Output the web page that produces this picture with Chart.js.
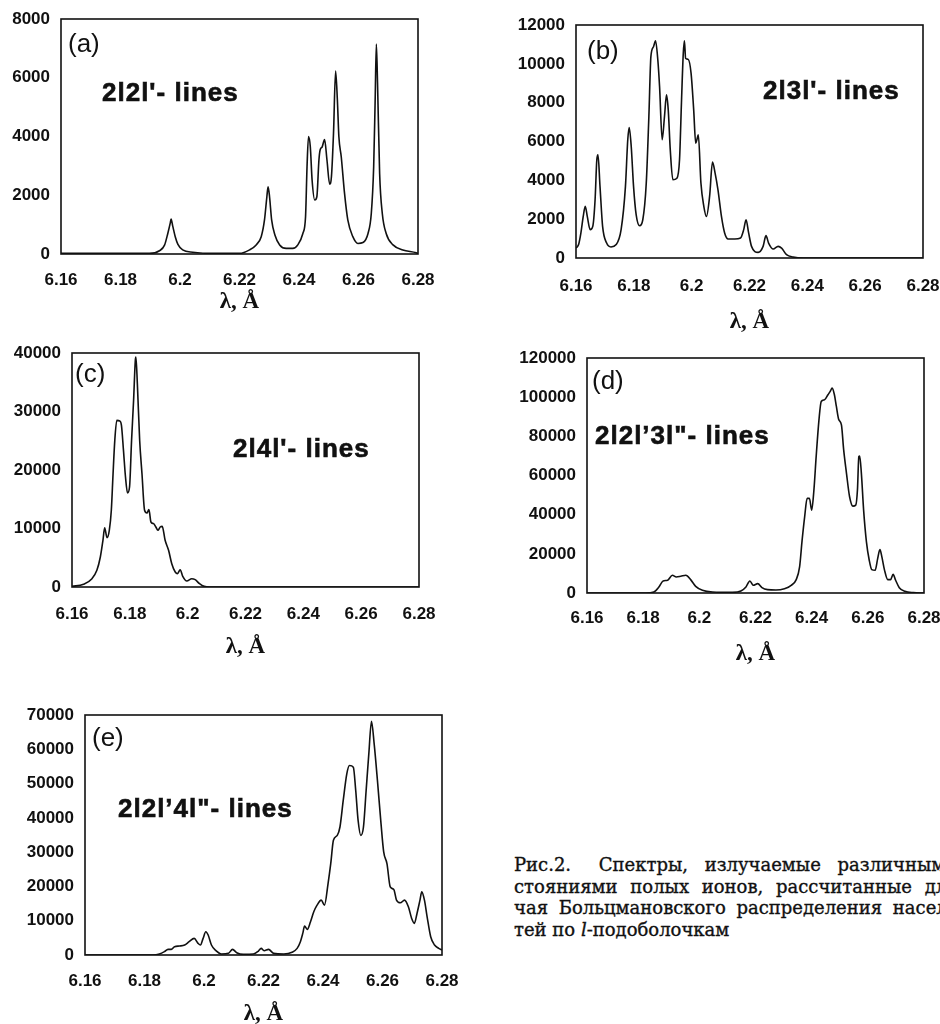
<!DOCTYPE html>
<html>
<head>
<meta charset="utf-8">
<script src="https://cdn.jsdelivr.net/npm/chart.js@4.4.1/dist/chart.umd.min.js"></script>
<style>
  html, body { margin: 0; padding: 0; background: #fff; }
  body { width: 940px; height: 1024px; position: relative; overflow: hidden; }
  canvas { position: absolute; }
  .tag { position: absolute; font-family: "Liberation Sans", Arial, sans-serif; font-size: 26px; line-height: 1; color: #111; white-space: nowrap; }
  .lines { font-weight: bold; letter-spacing: 1px; -webkit-text-stroke: 0.6px #111; }
  .caption { position: absolute; left: 514px; top: 854px; font-family: "DejaVu Serif", serif; font-size: 18px; color: #111; white-space: nowrap; -webkit-text-stroke: 0.35px #111; }
  .caption div { height: 21.7px; line-height: 21.7px; }
</style>
</head>
<body>
<canvas id="chartA" width="442" height="309" style="left:0;top:7px"></canvas>
<canvas id="chartB" width="460" height="323" style="left:480px;top:13px"></canvas>
<canvas id="chartC" width="443" height="320" style="left:0;top:341px"></canvas>
<canvas id="chartD" width="460" height="322" style="left:480px;top:346px"></canvas>
<canvas id="chartE" width="466" height="325" style="left:0;top:703px"></canvas>

<div class="tag" style="left:68px;top:30px">(a)</div>
<div class="tag lines" style="left:102px;top:79px">2l2l'- lines</div>
<div class="tag" style="left:587px;top:37px">(b)</div>
<div class="tag lines" style="left:763px;top:77px">2l3l'- lines</div>
<div class="tag" style="left:75px;top:360px">(c)</div>
<div class="tag lines" style="left:233px;top:435px">2l4l'- lines</div>
<div class="tag" style="left:592px;top:367px">(d)</div>
<div class="tag lines" style="left:595px;top:422px">2l2l’3l"- lines</div>
<div class="tag" style="left:92px;top:724px">(e)</div>
<div class="tag lines" style="left:118px;top:795px">2l2l’4l"- lines</div>

<div class="caption">
  <div style="word-spacing:11px"><span style="margin-right:11px">Рис.2.</span> Спектры, излучаемые различными со-</div>
  <div style="word-spacing:7px">стояниями полых ионов, рассчитанные для слу-</div>
  <div style="word-spacing:5px">чая Больцмановского распределения населенностей</div>
  <div>тей по <i>l</i>-подоболочкам</div>
</div>

<script>
// (a) 2l2l' lines
const aWave = [6.1600, 6.1897, 6.1931, 6.1948, 6.1959, 6.1967, 6.1970, 6.1976, 6.1984, 6.1993, 6.2009, 6.2043, 6.2122, 6.2200,
  6.2234, 6.2256, 6.2273, 6.2284, 6.2292, 6.2296, 6.2301, 6.2308, 6.2319, 6.2335, 6.2357, 6.2379, 6.2396, 6.2413, 6.2422,
  6.2427, 6.2432, 6.2438, 6.2444, 6.2453, 6.2460, 6.2467, 6.2471, 6.2478, 6.2486, 6.2494, 6.2503, 6.2509, 6.2516, 6.2523,
  6.2529, 6.2534, 6.2542, 6.2553, 6.2564, 6.2581, 6.2598, 6.2615, 6.2632, 6.2643, 6.2651, 6.2656, 6.2660, 6.2664, 6.2671,
  6.2680, 6.2693, 6.2716, 6.2749, 6.2794, 6.2800];
const aInt = [20, 20, 110, 300, 700, 1040, 1190, 930, 590, 330, 140, 60, 20, 20,
  140, 310, 590, 1160, 1950, 2290, 1950, 1160, 650, 310, 190, 190, 310, 700, 1270,
  2970, 4000, 3650, 2520, 1840, 1950, 3200, 3540, 3650, 3900, 3200, 2380, 2630, 4110, 6230,
  5240, 4000, 3310, 2070, 1160, 590, 360, 390, 700, 1380, 2970, 5240, 7150, 5810, 2750,
  1380, 700, 310, 140, 45, 20];

// (b) 2l3l' lines
const bWave = [6.1600, 6.1609, 6.1617, 6.1625, 6.1632, 6.1639, 6.1649, 6.1658, 6.1666, 6.1672, 6.1676, 6.1683, 6.1692, 6.1706,
  6.1721, 6.1739, 6.1756, 6.1771, 6.1779, 6.1784, 6.1791, 6.1799, 6.1808, 6.1820, 6.1831, 6.1843, 6.1852, 6.1859, 6.1868,
  6.1875, 6.1883, 6.1889, 6.1898, 6.1906, 6.1913, 6.1919, 6.1926, 6.1935, 6.1949, 6.1958, 6.1965, 6.1971, 6.1975, 6.1979,
  6.1988, 6.1998, 6.2007, 6.2014, 6.2018, 6.2023, 6.2032, 6.2042, 6.2051, 6.2062, 6.2072, 6.2081, 6.2091, 6.2103, 6.2114,
  6.2126, 6.2149, 6.2169, 6.2180, 6.2188, 6.2197, 6.2207, 6.2230, 6.2247, 6.2257, 6.2266, 6.2282, 6.2299, 6.2311, 6.2328,
  6.2351, 6.2386, 6.2800];
const bInt = [510, 690, 1290, 2140, 2660, 2140, 1460, 1630, 3000, 5060, 5310, 3690, 1630, 770,
  570, 690, 1460, 3690, 6090, 6720, 5740, 3690, 2230, 1660, 1970, 3860, 7290, 10370, 10880,
  11190, 10200, 8830, 6090, 7290, 8400, 7630, 5570, 4030, 4110, 5060, 8140, 10540, 11190, 10290,
  10230, 9510, 7630, 5910, 6090, 6340, 3860, 2660, 2140, 3170, 4940, 4370, 3510, 2140, 1290,
  980, 980, 1030, 1460, 1970, 1290, 600, 290, 600, 1150, 770, 460, 600, 510, 170,
  50, 0, 0];

// (c) 2l4l' lines
const cWave = [6.1600, 6.1640, 6.1669, 6.1686, 6.1698, 6.1707, 6.1713, 6.1721, 6.1729, 6.1736, 6.1742, 6.1748, 6.1755, 6.1765,
  6.1771, 6.1778, 6.1785, 6.1792, 6.1799, 6.1806, 6.1813, 6.1819, 6.1821, 6.1826, 6.1834, 6.1842, 6.1851, 6.1859, 6.1866,
  6.1873, 6.1882, 6.1890, 6.1897, 6.1905, 6.1912, 6.1922, 6.1934, 6.1945, 6.1957, 6.1965, 6.1974, 6.1983, 6.1997, 6.2014,
  6.2026, 6.2041, 6.2057, 6.2077, 6.2800];
const cInt = [110, 460, 1420, 2850, 5130, 7980, 10140, 8430, 9690, 13110, 19370, 25070, 28490, 28380,
  27640, 23360, 18800, 16070, 17090, 25070, 31910, 38750, 39320, 34760, 25070, 19370, 13110, 12650, 13220,
  11110, 10830, 10260, 9690, 10260, 10370, 7980, 6270, 3990, 2560, 2280, 2960, 1820, 1030, 1420,
  1250, 570, 110, 0, 0];

// (d) 2l2l'3l" lines
const dWave = [6.1600, 6.1809, 6.1838, 6.1856, 6.1871, 6.1887, 6.1904, 6.1918, 6.1934, 6.1952, 6.1969, 6.1987, 6.2011, 6.2047,
  6.2118, 6.2148, 6.2166, 6.2180, 6.2192, 6.2208, 6.2223, 6.2243, 6.2273, 6.2303, 6.2327, 6.2345, 6.2357, 6.2366, 6.2375,
  6.2384, 6.2392, 6.2400, 6.2408, 6.2416, 6.2426, 6.2434, 6.2446, 6.2458, 6.2466, 6.2473, 6.2481, 6.2488, 6.2496, 6.2506,
  6.2514, 6.2524, 6.2535, 6.2547, 6.2557, 6.2563, 6.2568, 6.2571, 6.2577, 6.2585, 6.2595, 6.2605, 6.2614, 6.2626, 6.2635,
  6.2643, 6.2650, 6.2659, 6.2671, 6.2681, 6.2690, 6.2699, 6.2712, 6.2732, 6.2762, 6.2800];
const dInt = [0, 0, 510, 3070, 6150, 6490, 9050, 8190, 8540, 9050, 6830, 3410, 1370, 510,
  340, 1020, 3070, 6150, 3930, 4780, 2730, 1710, 1540, 2220, 3930, 6830, 13310, 26970, 38920,
  48310, 48310, 42330, 52580, 69650, 88420, 97810, 98670, 101230, 102930, 104640, 101230, 95250, 88760, 85860,
  73060, 61110, 49160, 44380, 44890, 52580, 69650, 69990, 61110, 42330, 26120, 16730, 11950, 11610, 17580,
  22190, 18440, 11950, 6830, 6830, 9560, 6490, 2730, 850, 170, 0];

// (e) 2l2l'4l" lines
const eWave = [6.1600, 6.1828, 6.1850, 6.1867, 6.1879, 6.1890, 6.1901, 6.1918, 6.1935, 6.1950, 6.1967, 6.1980, 6.1988, 6.1997,
  6.2006, 6.2014, 6.2025, 6.2040, 6.2059, 6.2082, 6.2096, 6.2110, 6.2132, 6.2166, 6.2183, 6.2192, 6.2202, 6.2217, 6.2234,
  6.2268, 6.2296, 6.2313, 6.2324, 6.2332, 6.2338, 6.2347, 6.2358, 6.2369, 6.2380, 6.2394, 6.2405, 6.2417, 6.2426, 6.2435,
  6.2448, 6.2457, 6.2468, 6.2480, 6.2489, 6.2502, 6.2510, 6.2518, 6.2527, 6.2536, 6.2545, 6.2554, 6.2563, 6.2572, 6.2583,
  6.2595, 6.2604, 6.2615, 6.2626, 6.2638, 6.2647, 6.2660, 6.2674, 6.2687, 6.2698, 6.2707, 6.2716, 6.2726, 6.2732, 6.2741,
  6.2750, 6.2762, 6.2775, 6.2789, 6.2800];
const eInt = [0, 0, 290, 970, 1650, 1650, 2420, 2620, 2910, 3880, 4850, 3390, 2910, 4850,
  6790, 5820, 2910, 1260, 290, 480, 1650, 680, 190, 290, 1160, 1940, 1260, 1650, 480,
  290, 780, 1940, 3880, 6300, 8430, 7470, 9700, 12600, 14540, 16000, 14540, 20840, 26660, 33450,
  34900, 37330, 45080, 52840, 55260, 54780, 47990, 39260, 34900, 37330, 47990, 58650, 68160, 61560, 50900,
  38300, 30050, 26660, 19870, 19100, 16000, 15220, 16000, 14060, 10660, 9210, 12120, 16000, 18420, 16000,
  11150, 5330, 2910, 1940, 1450];

const xTicksFrom = 6.16, xTicksTo = 6.28, xStep = 0.02;
const ink = '#111';
const tickFont = { family: '"Liberation Sans", Arial, sans-serif', size: 17, weight: 'bold' };

// box around the plot area
const frame = {
  id: 'frame',
  afterDraw(chart) {
    const { ctx, chartArea: a } = chart;
    ctx.save();
    ctx.strokeStyle = ink;
    ctx.lineWidth = 1.6;
    ctx.strokeRect(a.left, a.top, a.right - a.left, a.bottom - a.top);
    ctx.restore();
  }
};

function makePanel(id, waves, ints, yMax, yStep, yw, xh, padR, xPad) {
  return new Chart(document.getElementById(id), {
    type: 'line',
    data: {
      datasets: [{
        data: waves.map((x, i) => ({ x: x, y: ints[i] })),
        borderColor: ink,
        borderWidth: 1.6,
        pointRadius: 0,
        fill: false,
        cubicInterpolationMode: 'monotone'
      }]
    },
    options: {
      responsive: false,
      animation: false,
      events: [],
      layout: { padding: { top: 12, right: padR, left: 0, bottom: 0 } },
      plugins: { legend: { display: false }, tooltip: { enabled: false } },
      scales: {
        x: {
          type: 'linear',
          min: xTicksFrom,
          max: xTicksTo,
          grid: { display: false, drawTicks: false },
          border: { display: false },
          ticks: {
            stepSize: xStep,
            autoSkip: false,
            maxRotation: 0,
            padding: xPad,
            color: ink,
            font: tickFont,
            callback: v => String(+v.toFixed(2))
          },
          title: {
            display: true,
            text: 'λ, Å',
            color: ink,
            padding: 0,
            font: { family: '"Liberation Serif", "Times New Roman", serif', size: 23, weight: 'bold' }
          },
          afterFit: s => { s.height = xh; s.paddingLeft = 0; s.paddingRight = 0; }
        },
        y: {
          min: 0,
          max: yMax,
          grid: { display: false, drawTicks: false },
          border: { display: false },
          ticks: {
            stepSize: yStep,
            padding: 11,
            color: ink,
            font: tickFont,
            callback: v => String(v)
          },
          afterFit: s => { s.width = yw; s.paddingTop = 0; s.paddingBottom = 0; }
        }
      }
    },
    plugins: [frame]
  });
}

makePanel('chartA', aWave, aInt, 8000, 2000, 61, 62, 24, 16.5);
makePanel('chartB', bWave, bInt, 12000, 2000, 96, 78, 17, 18.5);
makePanel('chartC', cWave, cInt, 40000, 10000, 72, 74, 24, 17.5);
makePanel('chartD', dWave, dInt, 120000, 20000, 107, 75, 16, 15.5);
makePanel('chartE', eWave, eInt, 70000, 10000, 85, 73, 24, 16.5);
</script>
</body>
</html>
